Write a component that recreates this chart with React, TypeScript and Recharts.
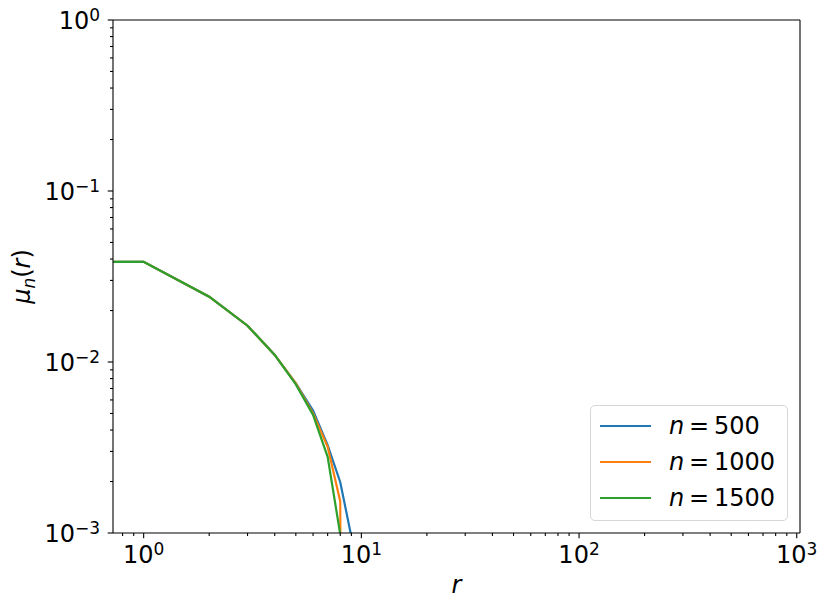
import { LineChart, Line, XAxis, YAxis, Legend, ReferenceLine } from 'recharts';

// radius r and the measured mu_n(r) for each n (0 = empty bin)
const radii = [0, 1, 2, 3, 4, 5, 6, 7, 8, 9, 10];
const mu500 = [0.0385, 0.0385, 0.0241, 0.0163, 0.011, 0.0075, 0.0052, 0.00326, 0.00198, 0.00095, 0];
const mu1000 = [0.0385, 0.0385, 0.0241, 0.0163, 0.011, 0.0075, 0.005, 0.00319, 0.00153, 0];
const mu1500 = [0.0385, 0.0385, 0.0241, 0.0163, 0.011, 0.0074, 0.0049, 0.00279, 0.00098, 0];

const seriesNames = ['500', '1000', '1500'];
const seriesColors = ['#1f77b4', '#ff7f0e', '#2ca02c'];
const seriesValues = [mu500, mu1000, mu1500];

const xDomain = [0.723, 1035];
const yDomain = [0.001, 1];

const FONT = '"DejaVu Sans", sans-serif';
// log axes can't show zero, push it far off the plot like matplotlib does
const CLIP = 1e-30;

const logTicks = (domain: number[]) => {
  const out: number[] = [];
  const lo = Math.floor(Math.log10(domain[0]));
  const hi = Math.ceil(Math.log10(domain[1]));
  for (let e = lo; e <= hi; e++) {
    for (let k = 1; k <= 9; k++) {
      const v = k * Math.pow(10, e);
      if (v >= domain[0] * 0.9999 && v <= domain[1] * 1.0001) out.push(v);
    }
  }
  return out;
};

const isMajor = (v: number) => Math.abs(Math.log10(v) - Math.round(Math.log10(v))) < 1e-6;
const expText = (v: number) => {
  const e = Math.round(Math.log10(v));
  return e < 0 ? `\u2212${-e}` : `${e}`;
};

const toPoints = (values: number[]) =>
  values.map((mu, i) => ({ r: radii[i] > 0 ? radii[i] : CLIP, mu: mu > 0 ? mu : CLIP }));

const XTick = ({ x, y, payload }: any) => {
  const major = isMajor(payload.value);
  return (
    <g>
      <line x1={x} x2={x} y1={y} y2={y + (major ? 5.3 : 3)} stroke="#000" strokeWidth={1.1} />
      {major && (
        <text x={x} y={y + 30} textAnchor="middle" fontSize={24} fontFamily={FONT} fill="#000">
          10<tspan dy={-8} fontSize={17}>{expText(payload.value)}</tspan>
        </text>
      )}
    </g>
  );
};

const YTick = ({ x, y, payload }: any) => {
  const major = isMajor(payload.value);
  return (
    <g>
      <line x1={x} x2={x - (major ? 5.3 : 3)} y1={y} y2={y} stroke="#000" strokeWidth={1.1} />
      {major && (
        <text x={x - 13} y={y + 9} textAnchor="end" fontSize={24} fontFamily={FONT} fill="#000">
          10<tspan dy={-8} fontSize={17}>{expText(payload.value)}</tspan>
        </text>
      )}
    </g>
  );
};

const renderLegend = () => (
  <div
    style={{
      boxSizing: 'border-box',
      width: 198,
      height: 116,
      paddingTop: 2,
      background: '#fff',
      border: '1.3px solid #d6d6d6',
      borderRadius: 5,
      fontFamily: FONT,
      fontSize: 24,
      color: '#000',
    }}
  >
    {seriesNames.map((name, i) => (
      <div key={name} style={{ display: 'flex', alignItems: 'center', height: 36 }}>
        <span
          style={{ display: 'inline-block', marginLeft: 9, width: 51, height: 2.2, background: seriesColors[i] }}
        />
        <span style={{ marginLeft: 18, whiteSpace: 'pre' }}>
          <i>n</i>{'\u2009=\u2009'}{name}
        </span>
      </div>
    ))}
  </div>
);

const App = () => {
  return (
    <div style={{ position: 'absolute', left: 0, top: 0, background: '#fff' }}>
      <LineChart width={830} height={610} margin={{ top: 20, right: 30, bottom: 0, left: 0 }}>
        <XAxis
          dataKey="r"
          type="number"
          scale="log"
          domain={xDomain}
          allowDataOverflow
          ticks={logTicks(xDomain)}
          interval={0}
          tick={<XTick />}
          tickLine={false}
          tickSize={0}
          tickMargin={0}
          height={77}
          axisLine={{ stroke: '#000', strokeWidth: 1.1 }}
          label={{
            content: ({ viewBox }: any) => (
              <text
                x={viewBox.x + viewBox.width / 2}
                y={593}
                textAnchor="middle"
                fontSize={24}
                fontStyle="italic"
                fontFamily={FONT}
                fill="#000"
              >
                r
              </text>
            ),
          }}
        />
        <YAxis
          dataKey="mu"
          type="number"
          scale="log"
          domain={yDomain}
          allowDataOverflow
          ticks={logTicks(yDomain)}
          interval={0}
          tick={<YTick />}
          tickLine={false}
          tickSize={0}
          tickMargin={0}
          width={113}
          axisLine={{ stroke: '#000', strokeWidth: 1.1 }}
          label={{
            content: ({ viewBox }: any) => {
              const cy = viewBox.y + viewBox.height / 2;
              return (
                <text
                  x={30}
                  y={cy}
                  transform={`rotate(-90 30 ${cy})`}
                  textAnchor="middle"
                  fontSize={24}
                  fontFamily={FONT}
                  fill="#000"
                >
                  <tspan fontStyle="italic">μ</tspan>
                  <tspan fontStyle="italic" fontSize={17} dy={5}>n</tspan>
                  <tspan dy={-5}>(</tspan>
                  <tspan fontStyle="italic">r</tspan>
                  <tspan>)</tspan>
                </text>
              );
            },
          }}
        />
        <ReferenceLine y={yDomain[1]} stroke="#000" strokeWidth={1.1} ifOverflow="visible" />
        <ReferenceLine x={xDomain[1]} stroke="#000" strokeWidth={1.1} ifOverflow="visible" />
        {seriesValues.map((values, i) => (
          <Line
            key={seriesNames[i]}
            data={toPoints(values)}
            dataKey="mu"
            name={`n = ${seriesNames[i]}`}
            stroke={seriesColors[i]}
            strokeWidth={2.2}
            dot={false}
            activeDot={false}
            isAnimationActive={false}
          />
        ))}
        <Legend
          layout="vertical"
          align="center"
          verticalAlign="middle"
          content={renderLegend}
          wrapperStyle={{ left: 590, top: 405, width: 'auto' }}
        />
      </LineChart>
    </div>
  );
};

export default App;
